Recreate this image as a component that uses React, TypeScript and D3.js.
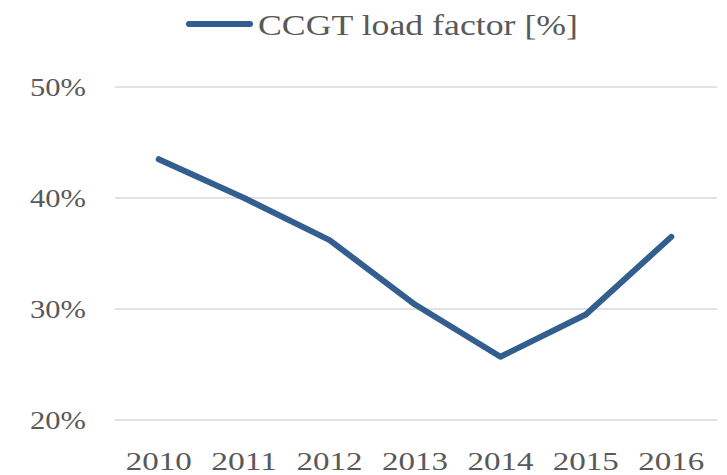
import React from "react";
import * as d3 from "d3";

const years = ["2010", "2011", "2012", "2013", "2014", "2015", "2016"];
const loadFactor = [43.5, 40.0, 36.2, 30.4, 25.7, 29.5, 36.5];
const yTicks = [20, 30, 40, 50];
const seriesName = "CCGT load factor [%]";

const W = 727;
const H = 475;
const FONT = "'Liberation Serif', 'DejaVu Serif', serif";
const TEXT = "#595959";
const LINE = "#335e90";

export default function App() {
  const x = d3.scaleBand<string>().domain(years).range([116, 714]);
  const y = d3.scaleLinear().domain([20, 50]).range([420, 87]);
  const line = d3
    .line<number>()
    .x((_, i) => (x(years[i]) as number) + x.bandwidth() / 2)
    .y((d) => y(d));

  return (
    <svg
      width={W}
      height={H}
      style={{ position: "absolute", left: 0, top: 0, background: "#fff" }}
    >
      {yTicks.map((t) => (
        <g key={t}>
          <line x1={115} x2={717} y1={y(t)} y2={y(t)} stroke="#d9d9d9" strokeWidth={1.5} />
          <text
            x={86}
            y={y(t)}
            dy="0.35em"
            textAnchor="end"
            fontFamily={FONT}
            fontSize={26}
            fill={TEXT}
            textLength={56}
            lengthAdjust="spacingAndGlyphs"
          >
            {t}%
          </text>
        </g>
      ))}
      {years.map((yr) => (
        <text
          key={yr}
          x={(x(yr) as number) + x.bandwidth() / 2}
          y={461}
          dy="0.35em"
          textAnchor="middle"
          fontFamily={FONT}
          fontSize={26}
          fill={TEXT}
          textLength={66}
          lengthAdjust="spacingAndGlyphs"
        >
          {yr}
        </text>
      ))}
      <path
        d={line(loadFactor) || ""}
        fill="none"
        stroke={LINE}
        strokeWidth={6}
        strokeLinecap="round"
        strokeLinejoin="round"
      />
      <line x1={189} x2={250} y1={24} y2={24} stroke={LINE} strokeWidth={6} strokeLinecap="round" />
      <text
        x={258}
        y={24}
        dy="0.35em"
        fontFamily={FONT}
        fontSize={30}
        fill={TEXT}
        textLength={320}
        lengthAdjust="spacingAndGlyphs"
      >
        {seriesName}
      </text>
    </svg>
  );
}
